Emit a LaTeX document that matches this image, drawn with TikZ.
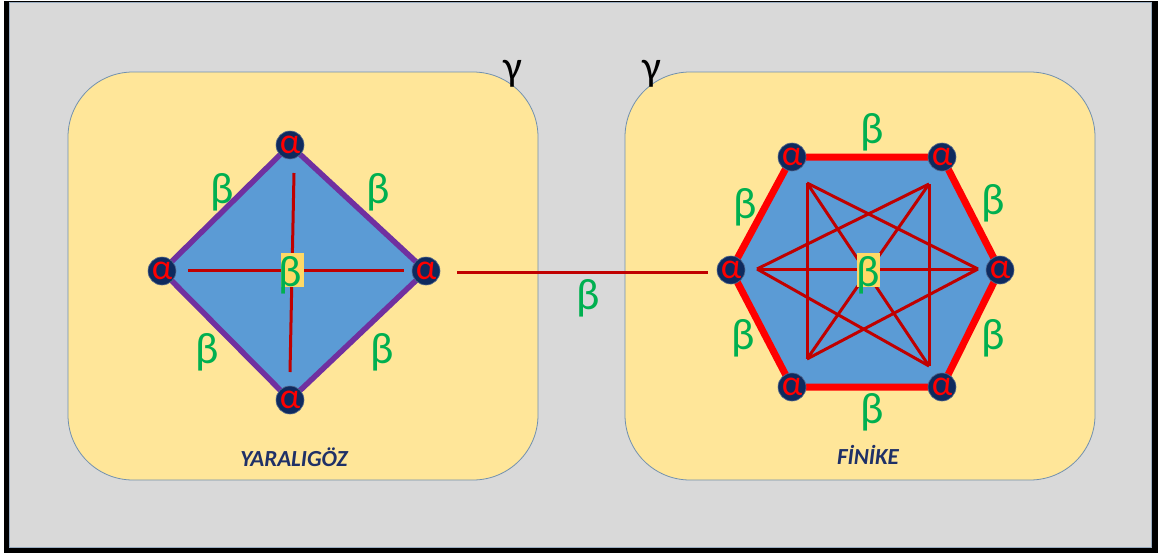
\documentclass[tikz,border=0pt]{standalone}
\usepackage{fontspec}
\setmainfont{Carlito}
\begin{document}
\begin{tikzpicture}[x=1pt,y=-1pt,
  bgbox/.style={fill=boxyellow,draw=boxedge,line width=0.8pt,rounded corners=65pt},
  anode/.style={circle,fill=navy,draw=navy!70!white,line width=0.6pt,minimum size=28pt,inner sep=0pt,text=red,font=\fontsize{36}{36}\selectfont},
  blab/.style={text=bgreen,font=\fontsize{44}{44}\selectfont,inner sep=0pt},
  glab/.style={text=black,font=\fontsize{42}{42}\selectfont,inner sep=0pt},
  cbox/.style={fill=cyellow,inner sep=0pt,minimum width=23pt,minimum height=34pt},
  inner/.style={draw=dred,line width=3pt},
  title/.style={text=tnavy,font=\fontsize{23}{23}\selectfont\bfseries\itshape,inner sep=0pt}
]
\definecolor{bggray}{HTML}{D9D9D9}
\definecolor{boxyellow}{HTML}{FFE699}
\definecolor{boxedge}{HTML}{7090B0}
\definecolor{fillblue}{HTML}{5B9BD5}
\definecolor{navy}{HTML}{0E2A5E}
\definecolor{dred}{HTML}{C00000}
\definecolor{bgreen}{HTML}{00B050}
\definecolor{purp}{HTML}{7030A0}
\definecolor{cyellow}{HTML}{FFD966}
\definecolor{tnavy}{HTML}{1F3067}
\useasboundingbox (0,0) rectangle (1158,554);
\fill[white] (0,0) rectangle (1158,554);
\fill[black] (4,1) rectangle (1158,553);
\fill[bggray] (9,2) rectangle (1151,547);
\draw[boxedge!60!bggray,line width=0.6pt] (9,2) rectangle (1151,547);
% boxes
\draw[bgbox] (68,72) rectangle (538,480);
\draw[bgbox] (625,72) rectangle (1095,480);
% gamma labels
\node[glab] (g1) at (513,74) {γ};
\node[glab] (g2) at (652,74) {γ};
% ---- diamond ----
\coordinate (dT) at (290,145);
\coordinate (dL) at (162,271);
\coordinate (dR) at (426,271);
\coordinate (dB) at (290,400);
\filldraw[fill=fillblue,draw=purp,line width=5.5pt,line join=miter] (dT) -- (dR) -- (dB) -- (dL) -- cycle;
\coordinate (cv1) at (294,173);
\coordinate (cv2) at (290,372);
\coordinate (ch1) at (188,270);
\coordinate (ch2) at (404,270);
\draw[inner] (cv1) -- (cv2);
\draw[inner] (ch1) -- (ch2);
\node[cbox] (dc) at (292,270) {};
\node[blab] at (290,275) {β};
\node[anode] (aT) at (dT) {α};
\node[anode] (aL) at (dL) {α};
\node[anode] (aR) at (dR) {α};
\node[anode] (aB) at (dB) {α};
\node[blab] at (222,192) {β};
\node[blab] at (378,192) {β};
\node[blab] at (207,352) {β};
\node[blab] at (382,352) {β};
\node[title] (t1) at (294,457) {YARALIGÖZ};
% ---- connector ----
\coordinate (k1) at (457,272);
\coordinate (k2) at (708,272);
\draw[inner] (k1) -- (k2);
\node[blab] at (588,298) {β};
% ---- hexagon ----
\coordinate (hTL) at (792,157);
\coordinate (hTR) at (942,157);
\coordinate (hR) at (1000,270);
\coordinate (hBR) at (942,387);
\coordinate (hBL) at (792,387);
\coordinate (hL) at (731,270);
\filldraw[fill=fillblue,draw=red,line width=7pt,line join=miter] (hTL) -- (hTR) -- (hR) -- (hBR) -- (hBL) -- (hL) -- cycle;
\coordinate (sTL) at (807,183);
\coordinate (sTR) at (929,184);
\coordinate (sL) at (757,269);
\coordinate (sR) at (978,269);
\coordinate (sBL) at (807,359);
\coordinate (sBR) at (929,366);
\draw[inner] (sTL) -- (sBL);
\draw[inner] (sTR) -- (sBR);
\draw[inner] (sL) -- (sR);
\draw[inner] (sL) -- (sTR);
\draw[inner] (sL) -- (sBR);
\draw[inner] (sR) -- (sTL);
\draw[inner] (sR) -- (sBL);
\draw[inner] (sTL) -- (sBR);
\draw[inner] (sTR) -- (sBL);
\node[cbox] (hc) at (868,270) {};
\node[blab] at (868,275) {β};
\node[anode] (bTL) at (hTL) {α};
\node[anode] (bTR) at (hTR) {α};
\node[anode] (bR) at (hR) {α};
\node[anode] (bBR) at (hBR) {α};
\node[anode] (bBL) at (hBL) {α};
\node[anode] (bL) at (hL) {α};
\node[blab] at (872,132) {β};
\node[blab] at (872,412) {β};
\node[blab] at (745,207) {β};
\node[blab] at (993,203) {β};
\node[blab] at (743,338) {β};
\node[blab] at (993,338) {β};
\node[title] (t2) at (868,455) {FİNİKE};
\end{tikzpicture}
\end{document}
